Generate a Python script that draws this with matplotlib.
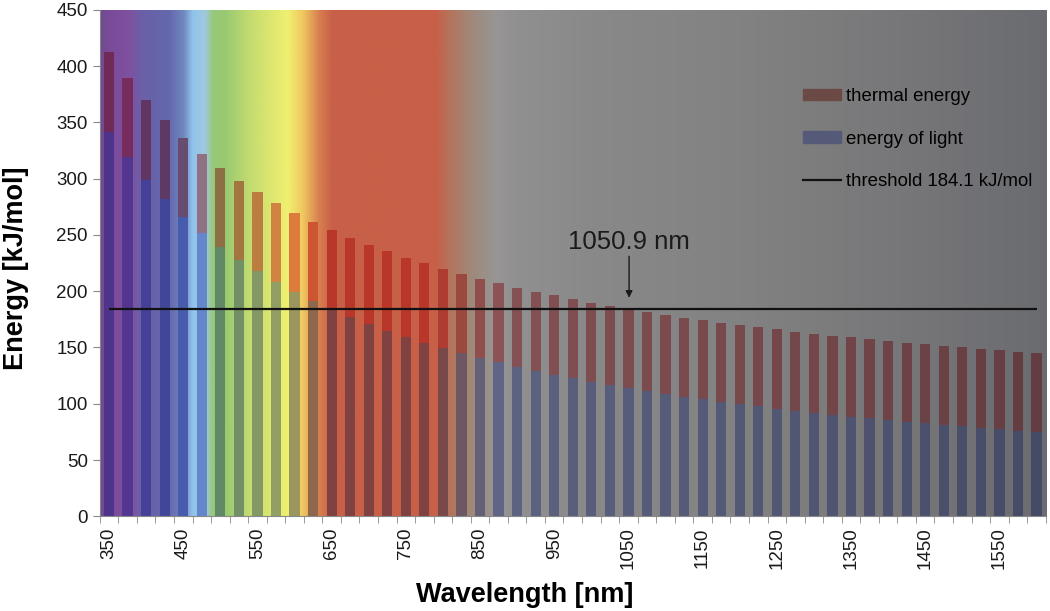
import numpy as np
import matplotlib
matplotlib.use("Agg")
import matplotlib.pyplot as plt
from matplotlib.colors import to_rgb
from matplotlib.patches import Patch
from matplotlib.lines import Line2D

plt.rcParams['font.family'] = ['Liberation Sans', 'DejaVu Sans']

# wavelengths (nm), one bar every 25 nm
wl = [350, 375, 400, 425, 450, 475, 500, 525, 550, 575,
      600, 625, 650, 675, 700, 725, 750, 775, 800, 825,
      850, 875, 900, 925, 950, 975, 1000, 1025, 1050, 1075,
      1100, 1125, 1150, 1175, 1200, 1225, 1250, 1275, 1300, 1325,
      1350, 1375, 1400, 1425, 1450, 1475, 1500, 1525, 1550, 1575, 1600]

# energy of light (kJ/mol)
light = [341.8, 319.0, 299.1, 281.5, 265.8, 251.8, 239.3, 227.9, 217.5, 208.0,
         199.4, 191.4, 184.0, 177.2, 170.9, 165.0, 159.5, 154.4, 149.5, 145.0,
         140.7, 136.7, 132.9, 129.3, 125.9, 122.7, 119.6, 116.7, 113.9, 111.3,
         108.8, 106.3, 104.0, 101.8, 99.7, 97.7, 95.7, 93.8, 92.0, 90.3,
         88.6, 87.0, 85.4, 83.9, 82.5, 81.1, 79.8, 78.4, 77.2, 76.0, 74.8]

# thermal energy (kJ/mol), the brown segments on top
thermal = [70.3, 70.3, 70.3, 70.3, 70.3, 70.3, 70.3, 70.3, 70.3, 70.3,
           70.3, 70.3, 70.3, 70.3, 70.3, 70.3, 70.3, 70.3, 70.3, 70.3,
           70.3, 70.3, 70.3, 70.3, 70.3, 70.3, 70.3, 70.3, 70.3, 70.3,
           70.3, 70.3, 70.3, 70.3, 70.3, 70.3, 70.3, 70.3, 70.3, 70.3,
           70.3, 70.3, 70.3, 70.3, 70.3, 70.3, 70.3, 70.3, 70.3, 70.3, 70.3]

threshold = 184.1
cross_nm = 1050.9
tick_labels = [350, 450, 550, 650, 750, 850, 950, 1050, 1150, 1250, 1350, 1450, 1550]

# spectrum colours behind the bars
stops = [(330, '#6a4a8a'), (355, '#7c4c9c'), (375, '#8050a0'), (395, '#6a60a8'),
         (430, '#6468ac'), (450, '#7088c0'), (462, '#90c4ec'), (478, '#a0c8e0'),
         (490, '#98c878'), (505, '#98c870'), (540, '#c4dc70'), (590, '#f0f070'),
         (610, '#f0c860'), (632, '#d88050'), (650, '#c86048'), (790, '#c86048'),
         (805, '#b87058'), (835, '#a08878'), (870, '#989595'), (900, '#909090'),
         (1000, '#898989'), (1200, '#828282'), (1400, '#78787a'), (1620, '#6a6b70')]
stop_wl = np.array([s[0] for s in stops], float)
stop_rgb = np.array([to_rgb(s[1]) for s in stops])


def spectrum(lam):
    return np.stack([np.interp(lam, stop_wl, stop_rgb[:, k]) for k in range(3)], axis=-1)


x = np.arange(len(wl))
step = wl[1] - wl[0]

fig = plt.figure(figsize=(10.5, 6.11), dpi=100)
ax = fig.add_axes([0.095, 0.155, 0.901, 0.829])

# background gradient
xs = np.linspace(-0.5, len(wl) - 0.5, 1200)
grad = spectrum(wl[0] + xs * step)[np.newaxis, :, :]
ax.imshow(grad, extent=(-0.5, len(wl) - 0.5, 0, 450), aspect='auto', zorder=0,
          interpolation='bilinear')

# bars darken the background they sit on
bg = spectrum(np.array(wl, float))
light_col = np.clip(bg * np.array([0.64, 0.68, 0.9]), 0, 1)
therm_col = np.clip(bg * np.array([0.92, 0.56, 0.58]), 0, 1)

ax.bar(x, light, width=0.55, color=light_col, zorder=2)
ax.bar(x, thermal, width=0.55, bottom=light, color=therm_col, zorder=2)

ax.hlines(threshold, x[0], x[-1], color='#111111', lw=1.6, zorder=3)

cx = (cross_nm - wl[0]) / step
ax.annotate('1050.9 nm', xy=(cx, threshold + 10), xytext=(cx, threshold + 60),
            ha='center', va='center', fontsize=18.5, color='#1a1a1a',
            arrowprops=dict(arrowstyle='-|>', color='#1a1a1a', lw=1.0,
                            mutation_scale=10, shrinkA=0, shrinkB=0), zorder=4)

ax.set_xlim(-0.5, len(wl) - 0.5)
ax.set_ylim(0, 450)
ax.set_yticks(np.arange(0, 451, 50))
ax.set_xticks([(v - wl[0]) / step for v in tick_labels])
ax.set_xticklabels([str(v) for v in tick_labels], rotation=90, fontsize=13.5,
                   color='#1a1a1a')
ax.set_xticks(np.arange(-0.5, len(wl), 1), minor=True)
ax.tick_params(axis='x', which='major', length=0, pad=8)
ax.tick_params(axis='x', which='minor', length=5, color='#888888', direction='out')
ax.tick_params(axis='y', length=5, color='#888888', labelsize=13.5,
               labelcolor='#1a1a1a', direction='out')

for s in ['top', 'right']:
    ax.spines[s].set_visible(False)
for s in ['left', 'bottom']:
    ax.spines[s].set_color('#888888')

ax.set_xlabel('Wavelength [nm]', fontsize=19.5, fontweight='bold')
ax.xaxis.set_label_coords(0.449, -0.13)
ax.set_ylabel('Energy [kJ/mol]', fontsize=19.5, fontweight='bold')
ax.yaxis.set_label_coords(-0.075, 0.49)

handles = [Patch(color='#6b4a45'), Patch(color='#555a78'),
           Line2D([0], [0], color='#111111', lw=1.6)]
ax.legend(handles, ['thermal energy', 'energy of light', 'threshold 184.1 kJ/mol'],
          loc='upper left', bbox_to_anchor=(0.736, 0.86), frameon=False,
          fontsize=13.4, handlelength=2.0, handleheight=0.6, labelspacing=1.37,
          handletextpad=0.3, borderaxespad=0)

fig.savefig('out.png', dpi=100)
